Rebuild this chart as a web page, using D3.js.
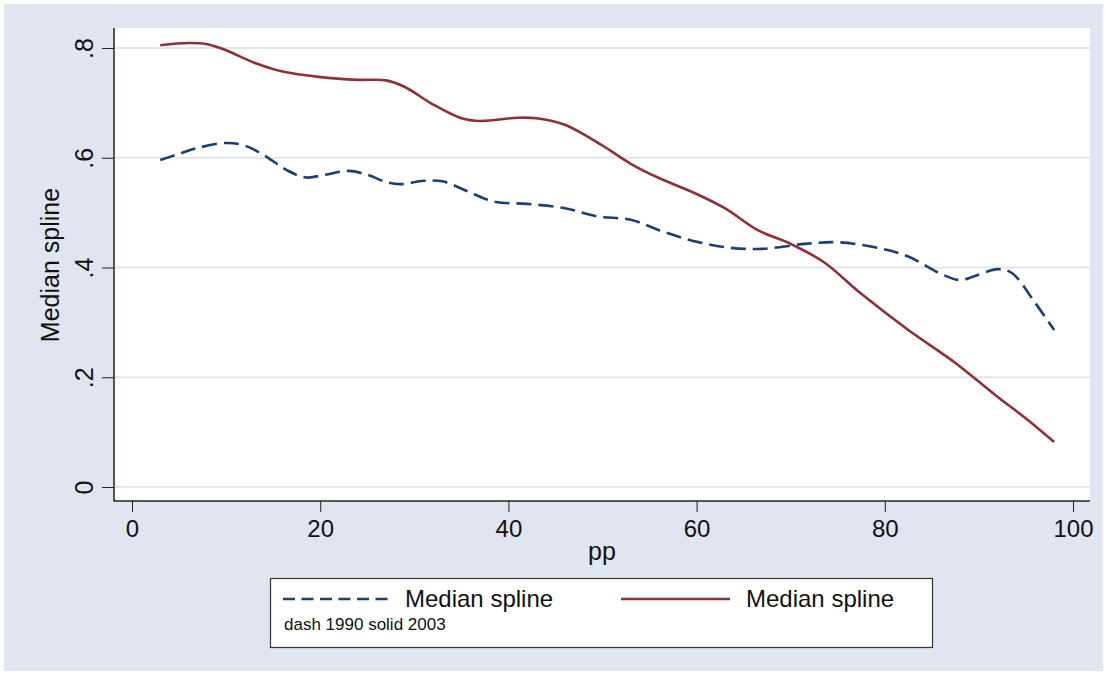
<!DOCTYPE html>
<html>
<head>
<meta charset="utf-8">
<script src="https://cdn.jsdelivr.net/npm/d3@7"></script>
<style>
  body { margin: 0; background: #ffffff; }
  text { font-family: "Liberation Sans", Arial, sans-serif; fill: #111; }
</style>
</head>
<body>
<div id="chart"></div>
<script>
// median spline by pp, 1990 (dashed) and 2003 (solid)
const pp1990 = [3, 5, 7, 10, 12, 14, 16.5, 18.5, 20.5, 23, 25, 27, 28.5, 31, 33, 35.5, 38.5, 42, 46, 49.5,
    53, 56.5, 60, 63.5, 67, 71.5, 75, 79.5, 82.5, 86, 88, 89.5, 92, 93.5, 96, 98];
const med1990 = [0.596, 0.607, 0.618, 0.627, 0.622, 0.605, 0.577, 0.564, 0.569, 0.576, 0.569, 0.556, 0.552, 0.558, 0.557, 0.54, 0.52, 0.516, 0.508, 0.493,
    0.487, 0.465, 0.447, 0.436, 0.434, 0.443, 0.446, 0.435, 0.42, 0.388, 0.377, 0.384, 0.397, 0.39, 0.335, 0.286];

const pp2003 = [3, 6, 8, 10, 13, 16, 20, 24, 27, 29, 32, 35, 37, 41, 43, 46, 50, 53, 56, 60,
    63, 66.5, 70, 73.5, 77.5, 82.5, 87.5, 92, 95, 98];
const med2003 = [0.805, 0.809, 0.807, 0.796, 0.773, 0.757, 0.747, 0.742, 0.741, 0.729, 0.697, 0.672, 0.667, 0.673, 0.672, 0.66, 0.622, 0.589, 0.563, 0.534,
    0.508, 0.468, 0.443, 0.41, 0.352, 0.286, 0.226, 0.164, 0.125, 0.082];

const xTicks = [0, 20, 40, 60, 80, 100];
const yTicks = [0, 0.2, 0.4, 0.6, 0.8];
const legendLabels = ["Median spline", "Median spline"];
const legendNote = "dash 1990 solid 2003";

const width = 1107, height = 675;
const bg = "#e0e5ef";
const blue = "#1a3f70";
const red = "#8f2f37";

const svg = d3.select("#chart")
    .append("svg")
    .attr("width", width)
    .attr("height", height);

svg.append("rect")
    .attr("x", 4).attr("y", 4)
    .attr("width", 1099).attr("height", 667)
    .attr("fill", bg);

// plot region
const plot = {left: 114, top: 28, right: 1090, bottom: 501};
svg.append("rect")
    .attr("x", plot.left).attr("y", plot.top)
    .attr("width", plot.right - plot.left).attr("height", plot.bottom - plot.top)
    .attr("fill", "#ffffff");

const x = d3.scaleLinear().domain([0, 100]).range([132, 1073]);
const y = d3.scaleLinear().domain([0, 0.8]).range([487, 48]);

// gridlines
svg.append("g")
    .selectAll("line")
    .data(yTicks)
    .join("line")
    .attr("x1", plot.left).attr("x2", plot.right)
    .attr("y1", d => y(d)).attr("y2", d => y(d))
    .attr("stroke", bg)
    .attr("stroke-width", 2);

// y axis
const yAxis = svg.append("g")
    .attr("transform", "translate(" + plot.left + ",0)")
    .call(d3.axisLeft(y).tickValues(yTicks).tickSize(12).tickSizeOuter(0)
        .tickFormat(d => d === 0 ? "0" : String(+d.toFixed(1)).replace("0.", ".")));
yAxis.select(".domain").remove();
yAxis.selectAll(".tick line").attr("stroke", "#222");
yAxis.selectAll(".tick text")
    .attr("transform", "rotate(-90)")
    .attr("x", 0).attr("y", -21).attr("dy", 0)
    .attr("text-anchor", "middle")
    .style("font-size", "25px")
    .style("font-family", "Liberation Sans, Arial, sans-serif")
    .attr("fill", "#111");

// x axis
const xAxis = svg.append("g")
    .attr("transform", "translate(0," + plot.bottom + ")")
    .call(d3.axisBottom(x).tickValues(xTicks).tickSize(11).tickSizeOuter(0));
xAxis.select(".domain").remove();
xAxis.selectAll(".tick line").attr("stroke", "#222");
xAxis.selectAll(".tick text")
    .attr("y", 36).attr("dy", 0)
    .style("font-size", "24px")
    .style("font-family", "Liberation Sans, Arial, sans-serif")
    .attr("fill", "#111");

// axis lines
svg.append("line")
    .attr("x1", plot.left).attr("x2", plot.left)
    .attr("y1", plot.top).attr("y2", plot.bottom + 0.5)
    .attr("stroke", "#222").attr("stroke-width", 1.5);
svg.append("line")
    .attr("x1", plot.left).attr("x2", plot.right)
    .attr("y1", plot.bottom).attr("y2", plot.bottom)
    .attr("stroke", "#222").attr("stroke-width", 1.5);

// titles
svg.append("text")
    .attr("transform", "translate(59,265) rotate(-90)")
    .attr("text-anchor", "middle")
    .style("font-size", "25px")
    .text("Median spline");

svg.append("text")
    .attr("x", (plot.left + plot.right) / 2)
    .attr("y", 560)
    .attr("text-anchor", "middle")
    .style("font-size", "25px")
    .text("pp");

// series
const line = d3.line()
    .x(d => x(d[0]))
    .y(d => y(d[1]))
    .curve(d3.curveCatmullRom.alpha(0.5));

svg.append("path")
    .datum(d3.zip(pp1990, med1990))
    .attr("d", line)
    .attr("fill", "none")
    .attr("stroke", blue)
    .attr("stroke-width", 2.6)
    .attr("stroke-dasharray", "15,7");

svg.append("path")
    .datum(d3.zip(pp2003, med2003))
    .attr("d", line)
    .attr("fill", "none")
    .attr("stroke", red)
    .attr("stroke-width", 2.6);

// legend
const legend = svg.append("g");
legend.append("rect")
    .attr("x", 270.5).attr("y", 578.5)
    .attr("width", 662).attr("height", 69)
    .attr("fill", "#ffffff")
    .attr("stroke", "#333")
    .attr("stroke-width", 1.2);

legend.append("line")
    .attr("x1", 283).attr("x2", 390)
    .attr("y1", 599).attr("y2", 599)
    .attr("stroke", blue).attr("stroke-width", 2.4)
    .attr("stroke-dasharray", "12,6.5");
legend.append("text")
    .attr("x", 405).attr("y", 607)
    .style("font-size", "24px")
    .text(legendLabels[0]);

legend.append("line")
    .attr("x1", 621).attr("x2", 730)
    .attr("y1", 599).attr("y2", 599)
    .attr("stroke", red).attr("stroke-width", 2.4);
legend.append("text")
    .attr("x", 746).attr("y", 607)
    .style("font-size", "24px")
    .text(legendLabels[1]);

legend.append("text")
    .attr("x", 284).attr("y", 630)
    .style("font-size", "17px")
    .text(legendNote);
</script>
</body>
</html>
